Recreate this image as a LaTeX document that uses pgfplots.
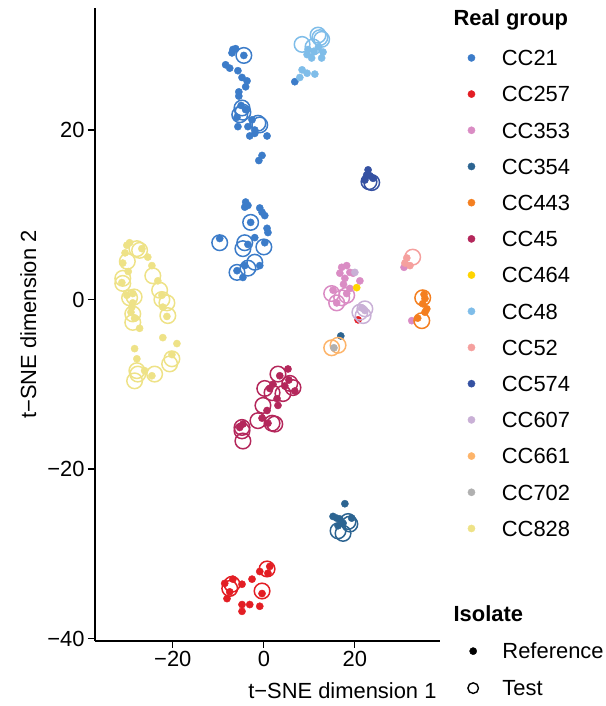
\documentclass[border=0pt]{standalone}
\usepackage{pgfplots}
\pgfplotsset{compat=1.18}
\usepackage{fontspec}
\setmainfont{Liberation Sans}

\definecolor{c21}{HTML}{3C7CC9}
\definecolor{c257}{HTML}{E31E24}
\definecolor{c353}{HTML}{DA8CC4}
\definecolor{c354}{HTML}{2C6491}
\definecolor{c443}{HTML}{F47F20}
\definecolor{c45}{HTML}{B4275B}
\definecolor{c464}{HTML}{FFD400}
\definecolor{c48}{HTML}{7FBDE9}
\definecolor{c52}{HTML}{F5A09E}
\definecolor{c574}{HTML}{3551A2}
\definecolor{c607}{HTML}{C9B0D6}
\definecolor{c661}{HTML}{FDB46A}
\definecolor{c702}{HTML}{B0B0B0}
\definecolor{c828}{HTML}{EEE287}

\pgfplotsset{
  refpt/.style={only marks, mark=*, color=#1, mark size=3.6bp, mark options={draw=none, fill=#1}},
  testpt/.style={only marks, mark=o, color=#1, mark size=7.8bp, mark options={line width=1.5bp, draw=#1, fill=none}},
  testleg/.style={only marks, mark=o, color=#1, mark size=5.3bp, mark options={line width=1.4bp, draw=#1, fill=none}},
}

\begin{document}
\begin{tikzpicture}
\begin{axis}[
  at={(0,0)}, anchor=south west,
  scale only axis, width=345bp, height=633bp,
  xmin=-37.1, xmax=38.7, ymin=-40.3, ymax=34.4,
  clip=false,
  axis x line*=bottom, axis y line*=left,
  axis line style={-, line width=1.1bp, black},
  tick align=outside, major tick length=7bp,
  tick style={line width=1.1bp, black},
  xtick={-20,0,20}, xticklabels={−20,0,20},
  ytick={-40,-20,0,20}, yticklabels={−40,−20,0,20},
  tick label style={font=\fontsize{22}{22}\selectfont},
  xlabel={t−SNE dimension 1}, ylabel={t−SNE dimension 2},
  label style={font=\fontsize{22}{22}\selectfont},
  xlabel style={at={(rel axis cs:1,-0.0916)}, anchor=base east},
  ylabel style={at={(rel axis cs:-0.171,0.5)}, anchor=base},
  legend cell align=left,
  legend style={at={(rel axis cs:1.0808,0.9336)}, anchor=north west,
    draw=none, fill=none, inner sep=0pt, outer sep=0pt,
    font=\fontsize{22}{22}\selectfont, row sep=20.5bp,
    nodes={inner sep=0pt, text height=15.7bp, text depth=0pt},
    /tikz/every odd column/.append style={column sep=26.8bp}},
]
% legend entries
\addlegendimage{refpt=c21}\addlegendentry{CC21}
\addlegendimage{refpt=c257}\addlegendentry{CC257}
\addlegendimage{refpt=c353}\addlegendentry{CC353}
\addlegendimage{refpt=c354}\addlegendentry{CC354}
\addlegendimage{refpt=c443}\addlegendentry{CC443}
\addlegendimage{refpt=c45}\addlegendentry{CC45}
\addlegendimage{refpt=c464}\addlegendentry{CC464}
\addlegendimage{refpt=c48}\addlegendentry{CC48}
\addlegendimage{refpt=c52}\addlegendentry{CC52}
\addlegendimage{refpt=c574}\addlegendentry{CC574}
\addlegendimage{refpt=c607}\addlegendentry{CC607}
\addlegendimage{refpt=c661}\addlegendentry{CC661}
\addlegendimage{refpt=c702}\addlegendentry{CC702}
\addlegendimage{refpt=c828}\addlegendentry{CC828}

% CC828
\addplot[refpt=c828, forget plot] coordinates {(-29.5,6.7) (-30.1,6.4) (-31.0,4.3) (-31.2,2.0) (-30.1,0.5) (-28.8,0.7) (-28.8,-0.4) (-29.0,-0.9) (-28.4,-2.2) (-27.3,-3.4) (-26.8,6.0) (-24.6,4.0) (-23.3,2.2) (-22.4,0.5) (-22.2,-0.9) (-21.3,-2.0) (-22.2,-4.5) (-28.4,-5.8) (-19.1,-5.2) (-27.9,-7.0) (-24.6,-9.0) (-26.2,-8.4) (-20.2,-6.5) (-30.5,5.5) (-29.8,3.3) (-25.5,5.0) (-29.2,-1.5)};
\addplot[testpt=c828, forget plot] coordinates {(-31.0,1.9) (-29.5,0.2) (-28.8,-1.7) (-28.8,-2.7) (-27.3,5.8) (-27.9,6.0) (-31.0,2.5) (-24.4,2.8) (-22.9,1.1) (-21.3,-0.4) (-21.1,-1.9) (-20.2,-7.0) (-20.7,-7.6) (-27.9,-8.4) (-27.7,-8.8) (-28.4,-9.6) (-24.0,-8.8) (-30.0,4.5) (-28.5,0.3) (-22.4,0.0)};
% CC21
\addplot[refpt=c21, forget plot] coordinates {(-6.8,29.5) (-7.0,29.1) (-6.2,29.6) (-4.4,28.8) (-8.4,27.7) (-7.5,27.3) (-5.7,27.0) (-4.8,26.2) (-3.7,25.8) (-4.0,25.1) (-5.5,24.5) (-5.5,24.0) (-5.0,22.9) (-4.0,22.4) (-5.9,21.5) (-5.7,20.4) (-3.5,20.4) (-2.6,21.2) (-2.0,20.0) (-3.1,19.3) (-2.0,19.6) (0.7,19.3) (-0.4,17.0) (-1.1,16.4) (6.8,25.7) (-4.0,11.5) (-3.5,11.1) (-4.2,10.9) (-0.9,10.8) (-0.4,10.3) (0.2,9.9) (0.7,8.4) (0.9,7.9) (0.2,6.7) (-2.9,9.1) (-9.7,7.2) (-2.0,7.3) (-4.2,4.0) (-4.6,2.6) (-0.9,4.0) (-5.9,3.4) (-3.5,6.5)};
\addplot[testpt=c21, forget plot] coordinates {(-4.4,28.8) (-4.8,22.6) (-4.6,22.1) (-5.3,21.8) (-1.3,20.8) (-0.9,20.6) (-2.9,9.1) (-9.7,6.7) (-4.2,6.7) (-4.6,6.0) (0.0,6.2) (-2.0,4.4) (-3.5,3.7) (-5.9,3.2)};
% CC48
\addplot[refpt=c48, forget plot] coordinates {(9.7,29.5) (9.5,28.9) (10.5,28.5) (12.7,28.5) (13.0,29.2) (8.4,27.1) (9.5,26.7) (11.2,26.6) (7.9,26.2) (11.0,29.3) (12.0,29.8)};
\addplot[testpt=c48, forget plot] coordinates {(8.4,30.1) (11.9,31.2) (12.3,30.9) (12.7,30.7) (10.8,29.8)};
% CC574
\addplot[refpt=c574, forget plot] coordinates {(22.9,15.3) (22.6,14.7) (24.0,14.3) (22.2,14.1) (23.3,14.6)};
\addplot[testpt=c574, forget plot] coordinates {(23.7,13.8) (23.1,13.9)};
% CC45
\addplot[refpt=c45, forget plot] coordinates {(5.3,-8.2) (3.5,-9.0) (1.3,-10.5) (4.6,-10.2) (6.8,-10.8) (2.9,-11.7) (3.1,-12.5) (0.7,-13.1) (-0.4,-14.0) (0.9,-14.6) (-5.3,-15.1) (-4.6,-14.7) (5.5,-9.5) (2.0,-10.0)};
\addplot[testpt=c45, forget plot] coordinates {(3.1,-8.8) (0.2,-10.5) (1.8,-11.0) (5.7,-9.9) (6.4,-10.4) (4.2,-11.1) (-0.2,-12.5) (-1.3,-14.3) (1.8,-14.6) (2.4,-14.7) (-4.8,-15.1) (-4.8,-15.5) (-4.6,-16.7)};
% CC257
\addplot[refpt=c257, forget plot] coordinates {(-8.6,-33.5) (-6.8,-33.0) (-4.8,-33.6) (-8.1,-35.3) (-2.6,-33.0) (-0.9,-32.1) (0.9,-32.3) (1.3,-31.5) (-0.4,-34.7) (-4.8,-36.0) (-4.8,-36.8) (-3.1,-36.0) (-0.9,-36.2) (-7.5,-34.5) (20.7,-2.4)};
\addplot[testpt=c257, forget plot] coordinates {(-7.0,-33.6) (-7.5,-34.1) (0.7,-31.8) (-0.4,-34.4)};
% CC354
\addplot[refpt=c354, forget plot] coordinates {(17.8,-24.1) (15.2,-25.6) (16.0,-25.8) (16.7,-25.9) (17.4,-26.4) (19.3,-25.8) (16.3,-26.7) (16.9,-4.3)};
\addplot[testpt=c354, forget plot] coordinates {(18.5,-26.2) (18.9,-26.5) (16.3,-27.3) (17.4,-27.6)};
% CC353
\addplot[refpt=c353, forget plot] coordinates {(17.1,3.8) (18.2,4.0) (16.7,3.1) (18.9,3.2) (17.8,2.5) (21.1,2.2) (19.6,3.1) (18.9,1.3) (18.2,0.7) (15.2,1.1) (16.0,-0.4) (30.8,3.8) (32.5,-2.5) (17.5,1.8)};
\addplot[testpt=c353, forget plot] coordinates {(14.9,0.7) (16.0,-0.4) (17.1,0.2) (18.2,0.5)};
% CC607
\addplot[refpt=c607, forget plot] coordinates {(20.0,3.2) (22.2,-1.3) (21.5,-1.0)};
\addplot[testpt=c607, forget plot] coordinates {(22.2,-1.1) (21.8,-1.9) (21.1,-1.5)};
% CC464
\addplot[refpt=c464, forget plot] coordinates {(20.4,1.4)};
% CC52
\addplot[refpt=c52, forget plot] coordinates {(31.4,4.9) (31.0,4.3) (32.1,4.0)};
\addplot[testpt=c52, forget plot] coordinates {(32.7,5.0)};
% CC443
\addplot[refpt=c443, forget plot] coordinates {(35.4,0.1) (34.9,-0.5) (35.8,-1.1) (35.4,-1.5) (33.8,-2.2) (35.2,0.6)};
\addplot[testpt=c443, forget plot] coordinates {(34.9,0.2) (34.7,-2.5)};
% CC661
\addplot[testpt=c661, forget plot] coordinates {(14.9,-5.7) (16.3,-5.4)};
% CC702
\addplot[refpt=c702, forget plot] coordinates {(15.4,-5.7)};

\node[anchor=base west, font=\bfseries\fontsize{22}{22}\selectfont, inner sep=0pt] at (rel axis cs:1.039,0.9716) {Real group};
\node[anchor=base west, font=\bfseries\fontsize{22}{22}\selectfont, inner sep=0pt] at (rel axis cs:1.039,0.0305) {Isolate};
\end{axis}

\begin{axis}[
  at={(0,0)}, anchor=south west,
  scale only axis, width=345bp, height=633bp,
  xmin=0, xmax=1, ymin=0, ymax=1, hide axis,
  legend cell align=left,
  legend style={at={(rel axis cs:1.0808,-0.0036)}, anchor=north west,
    draw=none, fill=none, inner sep=0pt, outer sep=0pt,
    font=\fontsize{22}{22}\selectfont, row sep=21.3bp,
    nodes={inner sep=0pt, text height=15.7bp, text depth=0pt},
    /tikz/every odd column/.append style={column sep=24.0bp}},
]
\addlegendimage{refpt=black}\addlegendentry{Reference}
\addlegendimage{testleg=black}\addlegendentry{Test}
\end{axis}
\pgfresetboundingbox
\path[use as bounding box] (-95bp,-65bp) rectangle (511bp,641bp);
\end{tikzpicture}
\end{document}
